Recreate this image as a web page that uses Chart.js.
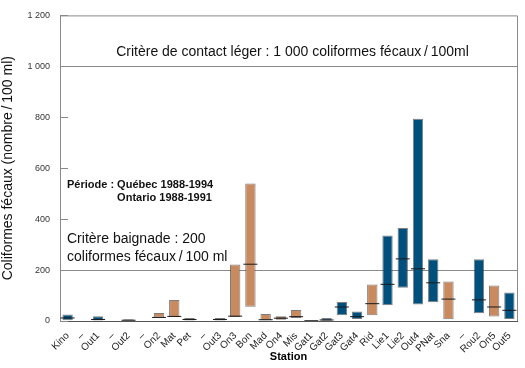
<!DOCTYPE html>
<html lang="fr">
<head>
<meta charset="UTF-8">
<title>Coliformes fécaux par station</title>
<script src="https://cdn.jsdelivr.net/npm/chart.js"></script>
<style>
    html, body { margin: 0; padding: 0; background: #fff; }
    #wrap { width: 525px; height: 368px; }
</style>
</head>
<body>
<div id="wrap"><canvas id="graphique"></canvas></div>
<script>
    // stations (les "–" sont des positions vides)
    const stations = ['Kino', '–', 'Out1', '–', 'Out2', '–', 'On2', 'Mat', 'Pet', '–', 'Out3', 'On3', 'Bon', 'Mad', 'On4',
        'Mis', 'Gat1', 'Gat2', 'Gat3', 'Gat4', 'Rid', 'Lie1', 'Lie2', 'Out4', 'PNat', 'Sna', '–', 'Rou2', 'On5', 'Out5'];
    // Q = Québec, O = Ontario, R = autre réseau
    const reseau = ['Q', null, 'Q', null, 'Q', null, 'O', 'O', 'R', null, 'Q', 'O', 'O', 'O', 'R',
        'O', 'R', 'Q', 'Q', 'Q', 'O', 'Q', 'Q', 'Q', 'Q', 'O', null, 'Q', 'O', 'Q'];
    const valMin = [3, null, 2, null, 0, null, 13, 16, 2, null, 2, 16, 56, 3, 5,
        12, 0, 1, 23, 8, 23, 62, 131, 65, 74, 7, null, 30, 18, 8];
    const valMax = [26, null, 19, null, 7, null, 31, 82, 12, null, 12, 222, 540, 27, 19,
        43, 3, 12, 75, 37, 143, 336, 365, 794, 242, 155, null, 242, 139, 112];
    const valMediane = [12, null, 6, null, 3, null, 14, 18, 6, null, 6, 19, 223, 5, 11,
        17, 1, 4, 55, 17, 68, 144, 244, 205, 150, 86, null, 83, 55, 42];
    const yTicks = [0, 200, 400, 600, 800, 1000, 1200];

    const couleurs = { Q: '#00507e', O: '#c98a60', R: '#7a5238' };
    const police = "'Liberation Sans', Arial, sans-serif";

    function formatMilliers(v) {
        return String(v).replace(/\B(?=(\d{3})+(?!\d))/g, ' ');
    }

    // cadre, petites graduations internes et textes
    const cadre = {
        id: 'cadre',
        afterDraw(chart) {
            const ctx = chart.ctx;
            const a = chart.chartArea;
            const y = chart.scales.y;
            ctx.save();
            ctx.strokeStyle = '#8a8a8a';
            ctx.lineWidth = 1;
            ctx.beginPath();
            ctx.moveTo(a.left, a.top + 0.5);
            ctx.lineTo(a.right + 0.5, a.top + 0.5);
            ctx.lineTo(a.right + 0.5, a.bottom);
            yTicks.forEach(v => {
                const py = Math.round(y.getPixelForValue(v)) + 0.5;
                ctx.moveTo(a.left, py);
                ctx.lineTo(a.left + 8, py);
            });
            ctx.stroke();

            ctx.fillStyle = '#111';
            ctx.textBaseline = 'middle';
            ctx.font = '14px ' + police;
            ctx.textAlign = 'center';
            ctx.fillText('Critère de contact léger : 1 000 coliformes fécaux\u2009/\u2009100ml', (a.left + a.right) / 2 + 4, y.getPixelForValue(1056));

            ctx.textAlign = 'left';
            ctx.fillText('Critère baignade : 200', a.left + 7, y.getPixelForValue(322));
            ctx.fillText('coliformes fécaux\u2009/\u2009100 ml', a.left + 7, y.getPixelForValue(252));

            ctx.font = 'bold 11px ' + police;
            const debut = 'Période : ';
            const decal = ctx.measureText(debut).width;
            ctx.fillText(debut + 'Québec 1988-1994', a.left + 7, y.getPixelForValue(533));
            ctx.fillText('Ontario 1988-1991', a.left + 7 + decal, y.getPixelForValue(483));
            ctx.restore();
        }
    };

    new Chart(document.getElementById('graphique'), {
        type: 'bar',
        data: {
            labels: stations,
            datasets: [{
                type: 'line',
                label: 'Médiane',
                data: valMediane,
                showLine: false,
                pointStyle: 'line',
                pointRadius: 7,
                pointHoverRadius: 7,
                borderColor: '#1a1a1a',
                borderWidth: 1,
                order: 1
            }, {
                label: 'Étendue',
                data: stations.map((s, i) => valMax[i] == null ? null : [valMin[i], valMax[i]]),
                backgroundColor: reseau.map(r => r ? couleurs[r] : 'transparent'),
                borderColor: 'rgba(40, 40, 40, 0.6)',
                borderWidth: 1,
                borderSkipped: false,
                barPercentage: 0.68,
                categoryPercentage: 1,
                order: 2
            }]
        },
        options: {
            responsive: true,
            maintainAspectRatio: false,
            animation: false,
            layout: { padding: { top: 11, right: 5, left: 0, bottom: 0 } },
            plugins: {
                legend: { display: false },
                tooltip: { enabled: false }
            },
            scales: {
                x: {
                    grid: { display: false },
                    border: { display: true, color: '#555' },
                    ticks: {
                        color: '#222',
                        font: { family: police, size: 10 },
                        maxRotation: 45,
                        minRotation: 45,
                        autoSkip: false,
                        padding: 1
                    },
                    title: {
                        display: true,
                        text: 'Station',
                        color: '#000',
                        font: { family: police, size: 11, weight: 'bold' },
                        padding: { top: 0, bottom: 4 }
                    },
                    afterFit(scale) { scale.height = 47; }
                },
                y: {
                    min: 0,
                    max: 1200,
                    afterBuildTicks(scale) { scale.ticks = yTicks.map(v => ({ value: v })); },
                    grid: {
                        drawTicks: false,
                        color: c => (c.tick && (c.tick.value === 200 || c.tick.value === 1000)) ? '#8a8a8a' : 'rgba(0,0,0,0)'
                    },
                    border: { display: true, color: '#8a8a8a' },
                    ticks: {
                        color: '#333',
                        font: { family: police, size: 9 },
                        padding: 10,
                        callback: v => formatMilliers(v)
                    },
                    title: {
                        display: true,
                        text: 'Coliformes fécaux (nombre\u2009/\u2009100 ml)',
                        color: '#111',
                        font: { family: police, size: 14 },
                        padding: { top: 0, bottom: 4 }
                    },
                    afterFit(scale) { scale.width = 60; }
                }
            }
        },
        plugins: [cadre]
    });
</script>
</body>
</html>
